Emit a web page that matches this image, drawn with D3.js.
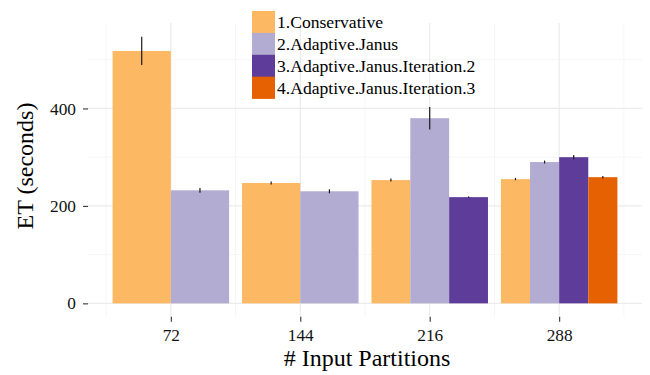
<!DOCTYPE html>
<html>
<head>
<meta charset="utf-8">
<script src="https://cdn.jsdelivr.net/npm/d3@7"></script>
<style>
  html, body { margin: 0; padding: 0; background: #fff; }
  svg { display: block; }
</style>
</head>
<body>
<svg id="chart" width="650" height="375" font-family="'Liberation Serif', 'Times New Roman', serif"></svg>
<script>
// ---- data ----
const categories = ["72", "144", "216", "288"];
const seriesNames = ["1.Conservative", "2.Adaptive.Janus", "3.Adaptive.Janus.Iteration.2", "4.Adaptive.Janus.Iteration.3"];
const seriesColors = ["#fdb863", "#b2abd2", "#5e3c99", "#e66101"];
const conservative = [518, 247, 253, 255];
const adaptiveJanus = [232, 230, 380, 290];
const iteration2 = [null, null, 218, 300];
const iteration3 = [null, null, null, 259];
const conservativeErr = [29, 3, 3, 2.5];
const adaptiveJanusErr = [5, 4, 23, 3];
const iteration2Err = [null, null, 1.5, 4.5];
const iteration3Err = [null, null, null, 2.5];
const yTicks = [0, 200, 400];
const yMinorTicks = [100, 300, 500];

const seriesValues = [conservative, adaptiveJanus, iteration2, iteration3];
const seriesErrs = [conservativeErr, adaptiveJanusErr, iteration2Err, iteration3Err];

const FONT = "'Liberation Serif', 'Times New Roman', serif";

// ---- layout ----
const panel = { left: 88, right: 642, top: 23, bottom: 316.7 };
const svg = d3.select("#chart");

const x = d3.scalePoint().domain(categories).range([panel.left, panel.right]).padding(0.64);
const step = x.step();
const y = d3.scaleLinear().domain([-27.4, 575.4]).range([panel.bottom, panel.top]);

// grid
const grid = svg.append("g");
grid.selectAll("line.ymin").data(yMinorTicks).join("line")
  .attr("x1", panel.left).attr("x2", panel.right)
  .attr("y1", d => y(d)).attr("y2", d => y(d))
  .attr("stroke", "#f4f4f4").attr("stroke-width", 0.8);
const xMinor = categories.map(c => x(c) - step / 2).concat([x(categories[categories.length - 1]) + step / 2]);
grid.selectAll("line.xmin").data(xMinor).join("line")
  .attr("x1", d => d).attr("x2", d => d)
  .attr("y1", panel.top).attr("y2", panel.bottom)
  .attr("stroke", "#f4f4f4").attr("stroke-width", 0.8);
grid.selectAll("line.ymaj").data(yTicks).join("line")
  .attr("x1", panel.left).attr("x2", panel.right)
  .attr("y1", d => y(d)).attr("y2", d => y(d))
  .attr("stroke", "#ebebeb").attr("stroke-width", 1.2);
grid.selectAll("line.xmaj").data(categories).join("line")
  .attr("x1", d => x(d)).attr("x2", d => x(d))
  .attr("y1", panel.top).attr("y2", panel.bottom)
  .attr("stroke", "#ebebeb").attr("stroke-width", 1.2);

// bars
const groups = categories.map((c, ci) => {
  const items = [];
  seriesValues.forEach((vals, si) => {
    if (vals[ci] != null) items.push({ cat: c, si, value: vals[ci], err: seriesErrs[si][ci] });
  });
  return { cat: c, items };
});

groups.forEach(g => {
  const inner = d3.scaleBand().domain(g.items.map(d => d.si))
    .range([x(g.cat) - step * 0.45, x(g.cat) + step * 0.45]).padding(0);
  const gg = svg.append("g");
  gg.selectAll("rect").data(g.items).join("rect")
    .attr("x", d => inner(d.si))
    .attr("width", inner.bandwidth())
    .attr("y", d => y(d.value))
    .attr("height", d => y(0) - y(d.value))
    .attr("fill", d => seriesColors[d.si]);
  gg.selectAll("line").data(g.items).join("line")
    .attr("x1", d => inner(d.si) + inner.bandwidth() / 2)
    .attr("x2", d => inner(d.si) + inner.bandwidth() / 2)
    .attr("y1", d => y(d.value - d.err))
    .attr("y2", d => y(d.value + d.err))
    .attr("stroke", "#1a1a1a").attr("stroke-width", 1.2);
});

// axes
const yAxis = svg.append("g").attr("transform", `translate(${panel.left},0)`)
  .call(d3.axisLeft(y).tickValues(yTicks).tickSize(5).tickPadding(7));
yAxis.attr("font-family", FONT).attr("font-size", 17.3);
yAxis.select(".domain").remove();
yAxis.selectAll(".tick line").attr("stroke", "#333").attr("stroke-width", 1.1);
yAxis.selectAll(".tick text").attr("font-family", FONT).attr("font-size", 17.3).attr("fill", "#111");

const xAxis = svg.append("g").attr("transform", `translate(0,${panel.bottom})`)
  .call(d3.axisBottom(x).tickSize(5).tickPadding(7));
xAxis.attr("font-family", FONT).attr("font-size", 17.3);
xAxis.select(".domain").remove();
xAxis.selectAll(".tick line").attr("stroke", "#333").attr("stroke-width", 1.1);
xAxis.selectAll(".tick text").attr("font-family", FONT).attr("font-size", 17.3).attr("fill", "#111");

// axis titles
svg.append("text")
  .attr("x", 367).attr("y", 366)
  .attr("text-anchor", "middle").attr("font-family", FONT).attr("font-size", 24).attr("fill", "#000")
  .text("# Input Partitions");
svg.append("text")
  .attr("transform", "translate(33,166) rotate(-90)")
  .attr("text-anchor", "middle").attr("font-family", FONT).attr("font-size", 24).attr("fill", "#000")
  .text("ET (seconds)");

// legend
const legend = svg.append("g").attr("transform", "translate(252,11)");
const keyH = 21.9;
const lg = legend.selectAll("g").data(seriesNames).join("g")
  .attr("transform", (d, i) => `translate(0,${i * keyH})`);
lg.append("rect").attr("width", 23).attr("height", keyH + 0.3)
  .attr("fill", (d, i) => seriesColors[i]);
lg.append("text").attr("x", 25).attr("y", keyH / 2).attr("dy", "0.35em")
  .attr("font-family", FONT).attr("font-size", 17.6).attr("fill", "#000").text(d => d);
</script>
</body>
</html>
